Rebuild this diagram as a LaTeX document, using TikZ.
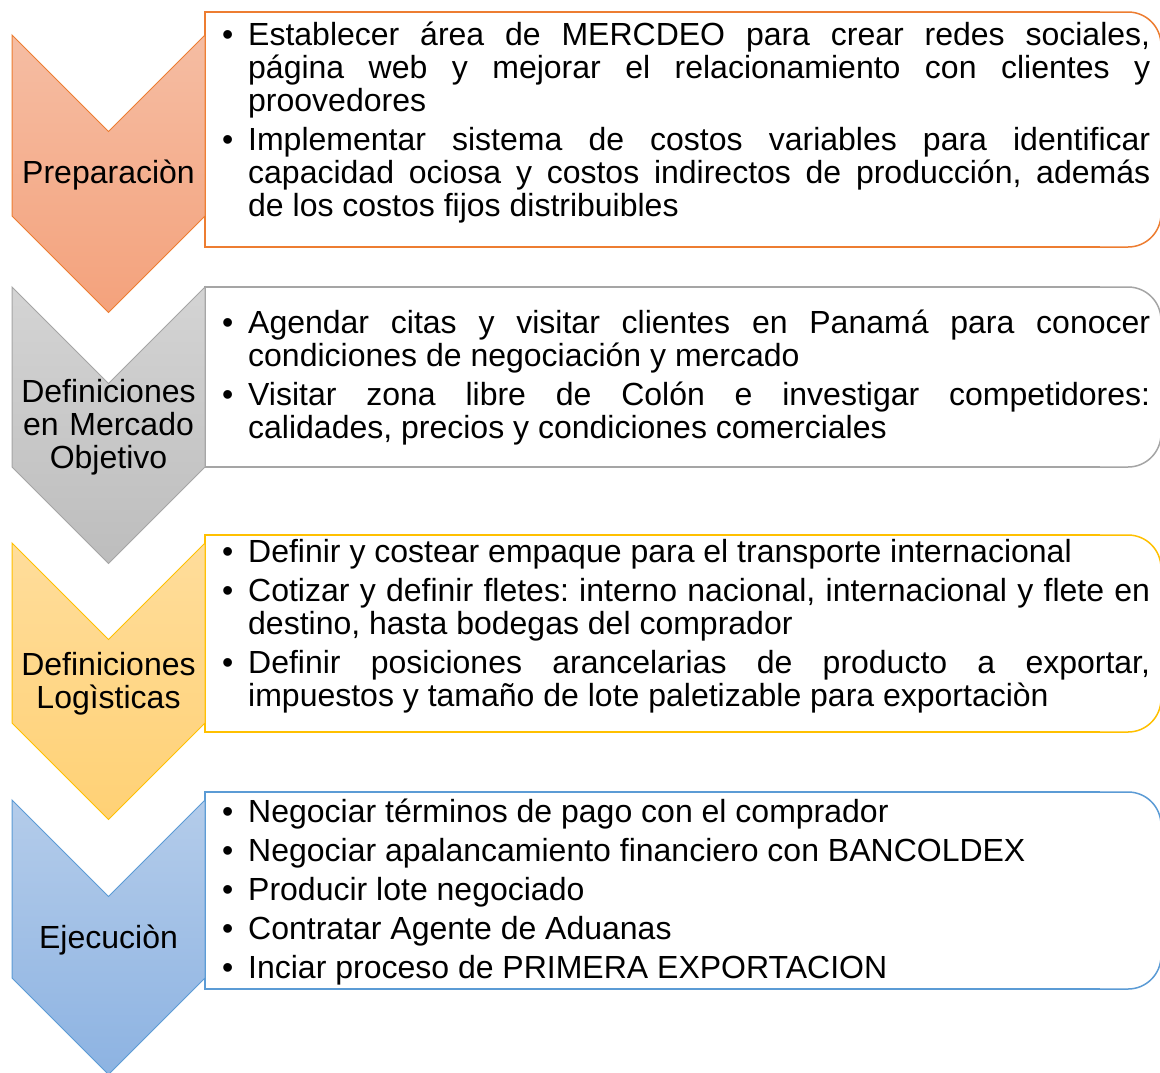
\documentclass[tikz,border=0pt]{standalone}
\usepackage{fontspec}
\setmainfont{Liberation Sans}
\frenchspacing
\definecolor{orTop}{HTML}{F5BDA3}
\definecolor{orBot}{HTML}{F4A27C}
\definecolor{orLine}{HTML}{ED7D31}
\definecolor{grTop}{HTML}{D4D4D4}
\definecolor{grBot}{HTML}{BDBDBD}
\definecolor{grLine}{HTML}{A5A5A5}
\definecolor{yeTop}{HTML}{FFDD9B}
\definecolor{yeBot}{HTML}{FFD175}
\definecolor{yeLine}{HTML}{FFC000}
\definecolor{blTop}{HTML}{B4CCEA}
\definecolor{blBot}{HTML}{8DB3E2}
\definecolor{blLine}{HTML}{5B9BD5}
\newcommand\txtsetup{\fontsize{32}{33}\selectfont\frenchspacing\hyphenpenalty=10000\relax\exhyphenpenalty=10000\relax\tolerance=9999\relax\hbadness=10000\relax}
\newcommand\bulf{\noindent\hangindent=26pt\relax\hangafter=1\relax\makebox[26pt][l]{\textbullet}}
\newcommand\bul{\par\vspace{6pt}\bulf}
\newcommand\chevron[5]{% top, sidebottom, topcolor, bottomcolor, linecolor
  \path[shade, top color=#3, bottom color=#4, draw=#5, line width=1pt, line join=miter]
    (12,#1) -- (108.5,#1+96.5) -- (205,#1) -- (205,#2) -- (108.5,#2+96.5) -- (12,#2) -- cycle;}
\newcommand\rbox[3]{% top, bottom, linecolor
  \fill[white] (205,#1) rectangle (1161,#2);
  \draw[line width=1.5pt, draw=#3] (1100,#2) -- (205,#2) -- (205,#1) -- (1100,#1);
  \draw[line width=1.5pt, draw=#3, rounded corners=33pt] (1090,#1) -- (1161,#1) -- (1161,#2) -- (1090,#2);}
\begin{document}
\begin{tikzpicture}[x=1pt,y=-1pt,
  lbl/.style={text width=194pt, align=center, inner sep=0pt, anchor=base,
    font=\fontsize{32}{33}\selectfont},
  txt/.style={text width=928pt, inner sep=0pt, anchor=base west, align=justify,
    font=\txtsetup}]
\useasboundingbox (0,0) rectangle (1160,1072);
\clip (0,0) rectangle (1160,1072);
\fill[white] (0,0) rectangle (1160,1072);

% boxes
\rbox{12}{247}{orLine}
\rbox{287}{467}{grLine}
\rbox{535}{732}{yeLine}
\rbox{792}{989}{blLine}

% chevrons
\chevron{35}{216}{orTop}{orBot}{orLine}
\chevron{287}{467}{grTop}{grBot}{grLine}
\chevron{543}{723}{yeTop}{yeBot}{yeLine}
\chevron{800}{978}{blTop}{blBot}{blLine}

% labels
\node[lbl] (l1) at (108.5,183) {Preparaciòn};
\node[lbl] (l2) at (108.5,402) {Definiciones\\en Mercado\\Objetivo};
\node[lbl] (l3) at (108.5,675) {Definiciones\\Logìsticas};
\node[lbl] (l4) at (108.5,948) {Ejecuciòn};

% texts
\node[txt] (t1) at (222,45) {%
\bulf Establecer área de MERCDEO para crear redes sociales,\linebreak página web y mejorar el relacionamiento con clientes y\linebreak proovedores
\bul Implementar sistema de costos variables para identificar\linebreak capacidad ociosa y costos indirectos de producción, además\linebreak de los costos fijos distribuibles\par};

\node[txt] (t2) at (222,333) {%
\bulf Agendar citas y visitar clientes en Panamá para conocer\linebreak condiciones de negociación y mercado
\bul Visitar zona libre de Colón e investigar competidores:\linebreak calidades, precios y condiciones comerciales\par};

\node[txt] (t3) at (222,562) {%
\bulf Definir y costear empaque para el transporte internacional
\bul Cotizar y definir fletes: interno nacional, internacional y flete en\linebreak destino, hasta bodegas del comprador
\bul Definir posiciones arancelarias de producto a exportar,\linebreak impuestos y tamaño de lote paletizable para exportaciòn\par};

\node[txt] (t4) at (222,822) {%
\bulf Negociar términos de pago con el comprador
\bul Negociar apalancamiento financiero con BANCOLDEX
\bul Producir lote negociado
\bul Contratar Agente de Aduanas
\bul Inciar proceso de PRIMERA EXPORTACION\par};
\end{tikzpicture}
\end{document}
